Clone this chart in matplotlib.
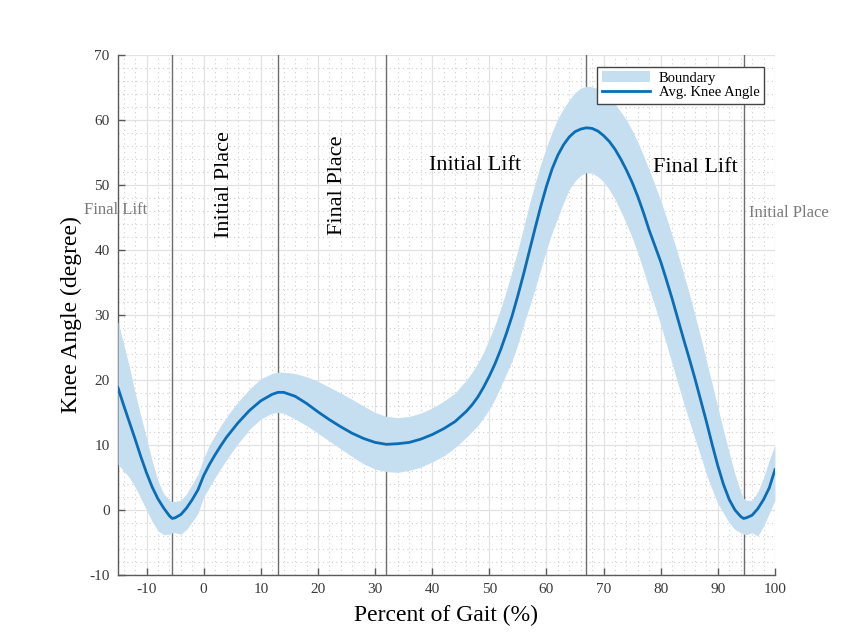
import matplotlib
matplotlib.use("Agg")
import matplotlib.pyplot as plt
from matplotlib.ticker import MultipleLocator

# gait cycle (%) and knee angle readings (degree)
gait = [-15, -14, -13, -12, -11, -10, -9, -8, -7, -6,
        -5.5, -5, -4, -3, -2, -1, 0, 1, 2, 3, 4, 5, 6,
        8, 10, 12, 13, 14, 16, 18, 20, 22, 24, 26, 28, 30, 32, 34, 36, 38, 40, 42, 44, 46,
        47, 48, 49, 50, 51, 52, 53, 54, 55, 56, 57, 58, 59, 60, 61, 62, 63, 64, 65, 66,
        67, 68, 69, 70,
        71, 72, 73, 74, 75, 76, 77, 78, 79, 80, 81, 82, 83, 84, 85, 86, 87, 88, 89, 90,
        91, 92, 93, 94,
        94.5, 95, 96, 97, 98, 99, 100]
knee_avg = [18.8, 16.1, 13.5, 10.9, 8.2, 5.7, 3.5, 1.7, 0.3, -0.9,
            -1.3, -1.2, -0.7, 0.3, 1.6, 3.1, 5.3, 7.0, 8.5, 9.9, 11.2, 12.3, 13.4,
            15.3, 16.8, 17.8, 18.1, 18.1, 17.5, 16.4, 15.1, 13.9, 12.8, 11.8, 11.0, 10.4,
            10.1, 10.2, 10.4, 10.9, 11.6, 12.5, 13.6, 15.2,
            16.2, 17.4, 18.9, 20.6, 22.5, 24.7, 27.2, 29.9, 33.0, 36.3, 39.8, 43.3, 46.7,
            49.8, 52.5, 54.6, 56.2, 57.4, 58.2, 58.6, 58.8, 58.7, 58.3, 57.6,
            56.7, 55.5, 54.0, 52.3, 50.4, 48.2, 45.7, 43.0, 40.6, 38.2, 35.4, 32.5, 29.4,
            26.3, 23.3, 20.2, 16.9, 13.6, 10.1, 6.8, 3.9, 1.6, 0.0, -1.0,
            -1.3, -1.2, -0.8, 0.2, 1.6, 3.4, 6.2]
knee_upper = [29, 25.5, 22, 18, 14.5, 11, 7.5, 4.5, 2.5, 1.5,
              1.3, 1.3, 1.5, 2.5, 4, 5.5, 8, 10, 11.5, 13, 14.3, 15.5, 16.6,
              18.6, 20.2, 21, 21.2, 21.2, 21, 20.5, 19.8, 18.9, 18, 17, 16, 15, 14.4,
              14.2, 14.4, 14.9, 15.7, 16.7, 18, 20,
              21.2, 22.6, 24.3, 26.3, 28.5, 31, 33.8, 36.8, 40, 43.5, 47, 50.2, 53.2,
              55.8, 58.2, 60.2, 61.8, 63.1, 64.2, 64.9, 65.2, 65.1, 64.8, 64.3,
              63.5, 62.5, 61.3, 60, 58.4, 56.6, 54.5, 52.3, 50, 47.6, 45, 42.3, 39.4,
              36.4, 33.3, 30, 26.6, 23, 19.4, 15.8, 12.2, 8.8, 5.5, 2.8,
              1.8, 1.5, 1.5, 2.8, 5, 7.7, 10]
knee_lower = [7, 6, 5, 3.5, 1.8, 0, -1.8, -3.2, -3.8, -3.7,
              -3.5, -3.5, -3.7, -3, -1.8, -0.5, 2, 3.5, 5, 6.4, 7.7, 9, 10.2,
              12.4, 14, 14.9, 15, 14.9, 14, 13, 11.8, 10.6, 9.4, 8.2, 7.1, 6.3, 5.9,
              5.8, 6.1, 6.6, 7.4, 8.3, 9.6, 11.2,
              12.1, 13, 14.2, 15.5, 17.1, 19, 21, 23, 25.5, 28.5, 31.2, 34, 37,
              40, 42.7, 45, 47.3, 49.3, 50.6, 51.5, 51.9, 51.8, 51.3, 50.5,
              49.3, 47.8, 46, 44, 41.9, 39.5, 36.8, 34, 31.3, 28.5, 25.5, 22.5, 19.5,
              16.5, 13.7, 11, 8.3, 5.5, 3.2, 1, -0.5, -2, -3, -3.5,
              -3.7, -3.8, -3.5, -4, -2.5, -0.5, 1.5]

# phase boundaries and labels
phase_edges = [-5.5, 13, 32, 67, 94.5]
phase_names = ["Initial Place", "Final Place", "Initial Lift", "Final Lift"]

plt.rcParams["font.family"] = ["Liberation Serif", "DejaVu Serif"]
plt.rcParams["axes.unicode_minus"] = False

fig = plt.figure(figsize=(8.44, 6.35), dpi=100)
ax = fig.add_axes([0.1398, 0.0945, 0.7784, 0.8189])

ax.fill_between(gait, knee_lower, knee_upper, color="#c5dff0", linewidth=0,
                zorder=3, label="Boundary")
ax.plot(gait, knee_avg, color="#0a6db5", linewidth=2, zorder=4,
        label="Avg. Knee Angle")

for xe in phase_edges:
    ax.axvline(xe, color="#6e6e6e", linewidth=1, zorder=2)

# phase names
ax.text(3.7, 50, phase_names[0], rotation=90, ha="center", va="center", fontsize=16)
ax.text(23.5, 50, phase_names[1], rotation=90, ha="center", va="center", fontsize=16)
ax.text(47.5, 53, phase_names[2], ha="center", va="center", fontsize=16)
ax.text(86, 52.7, phase_names[3], ha="center", va="center", fontsize=16)
ax.text(-15.5, 46.2, "Final Lift", ha="center", va="center", fontsize=12,
        color="#7a7a7a", clip_on=False)
ax.text(95.5, 45.7, "Initial Place", ha="left", va="center", fontsize=12,
        color="#7a7a7a", clip_on=False)

ax.set_xlim(-15, 100)
ax.set_ylim(-10, 70)
ax.xaxis.set_major_locator(MultipleLocator(10))
ax.yaxis.set_major_locator(MultipleLocator(10))
ax.xaxis.set_minor_locator(MultipleLocator(2))
ax.yaxis.set_minor_locator(MultipleLocator(2))
ax.grid(which="major", color="#e2e2e2", linewidth=0.9, zorder=0)
ax.grid(which="minor", color="#cfcfcf", linewidth=0.8, linestyle=(0, (1, 3)), zorder=0)
ax.set_axisbelow(True)

for side in ["top", "right"]:
    ax.spines[side].set_visible(False)
for side in ["left", "bottom"]:
    ax.spines[side].set_color("#5a5a5a")
    ax.spines[side].set_linewidth(1)
ax.tick_params(which="major", direction="in", length=5, width=1, color="#5a5a5a",
               labelsize=11, labelcolor="#3a3a3a", pad=6)
ax.tick_params(which="minor", length=0)

ax.set_xlabel("Percent of Gait (%)", fontsize=17, labelpad=6)
ax.set_ylabel("Knee Angle (degree)", fontsize=17, labelpad=5)

leg = ax.legend(loc="upper right", bbox_to_anchor=(0.983, 0.977), borderaxespad=0,
                fontsize=10.5, frameon=True, fancybox=False, framealpha=1,
                borderpad=0.3, handlelength=3.3, handletextpad=0.6, labelspacing=0.1)
leg.get_frame().set_edgecolor("#444444")
leg.get_frame().set_linewidth(1)

fig.savefig("out.png", dpi=100)
